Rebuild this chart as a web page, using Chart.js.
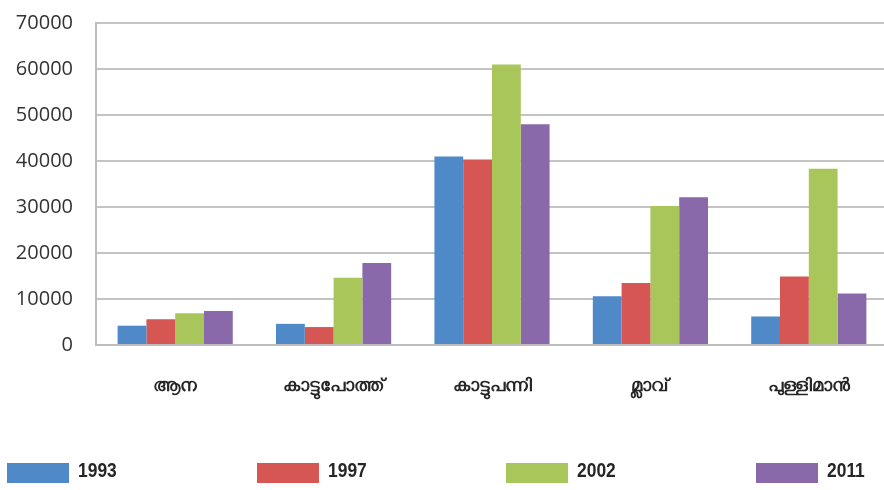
<!DOCTYPE html>
<html>
<head>
<meta charset="utf-8">
<script src="https://cdn.jsdelivr.net/npm/chart.js@4.4.0/dist/chart.umd.min.js"></script>
<style>
    html, body { margin: 0; padding: 0; background: #ffffff; overflow: hidden; }
    #wrap { position: relative; width: 892px; height: 490px; }
    #legend { position: absolute; left: 7px; top: 463px; display: flex; }
    .item { width: 249.5px; height: 20px; display: flex; align-items: center; }
    .box { width: 62px; height: 20px; margin-right: 9px; }
    .lbl { display: inline-block; position: relative; top: -3px; line-height: 20px;
           transform: scaleX(0.83); transform-origin: left center;
           font-family: 'Liberation Sans', sans-serif; font-weight: bold; font-size: 21px; color: #262626; }
</style>
</head>
<body>
<div id="wrap">
    <canvas id="myChart" width="892" height="490"></canvas>
    <div id="legend"></div>
</div>
<script>
const categorias = ['ആന', 'കാട്ടുപോത്ത്', 'കാട്ടുപന്നി', 'മ്ലാവ്', 'പുള്ളിമാൻ'];
const anios = ['1993', '1997', '2002', '2011'];
const datos1993 = [4200, 4600, 41000, 10600, 6200];
const datos1997 = [5600, 3900, 40300, 13500, 14900];
const datos2002 = [6900, 14600, 61000, 30200, 38300];
const datos2011 = [7400, 17800, 48000, 32100, 11200];
const colores = ['#4f89c8', '#d55652', '#a9c65b', '#8969a9'];

let series = [datos1993, datos1997, datos2002, datos2011];
let datasets = [];
series.forEach((valores, i) => {
    datasets.push({
        label: anios[i],
        data: valores,
        backgroundColor: colores[i],
        borderWidth: 0,
        barPercentage: 1.0,
        categoryPercentage: 0.727
    });
});

const ctx = document.getElementById('myChart');
const myChart = new Chart(ctx, {
    type: 'bar',
    data: {
        labels: categorias,
        datasets: datasets
    },
    options: {
        responsive: false,
        animation: false,
        layout: {
            padding: { top: 23, right: 4, bottom: 0, left: 0 }
        },
        scales: {
            x: {
                grid: { display: false, drawTicks: false },
                border: { display: true, color: '#bdbdbd', width: 2 },
                ticks: {
                    padding: 30,
                    color: '#262626',
                    font: { family: "'Noto Sans', sans-serif", size: 18, weight: 'bold' }
                },
                afterFit: function (scale) {
                    scale.height = 145;
                }
            },
            y: {
                min: 0,
                max: 70000,
                grid: { color: '#c4c4c4', lineWidth: 2, drawTicks: false },
                border: { display: true, color: '#bdbdbd', width: 2 },
                ticks: {
                    stepSize: 10000,
                    padding: 23,
                    color: '#333333',
                    font: { family: "'Open Sans', sans-serif", size: 20 },
                    callback: function (value) {
                        return String(value);
                    }
                },
                afterFit: function (scale) {
                    // ancho fijo del eje y sin relleno arriba
                    scale.width = 96;
                    scale.paddingTop = 0;
                }
            }
        },
        plugins: {
            legend: { display: false },
            tooltip: { enabled: false }
        }
    }
});

// leyenda en html, abajo
let vhtml = '';
myChart.data.datasets.forEach(ds => {
    vhtml += '<div class="item"><div class="box" style="background:' + ds.backgroundColor + '"></div><span class="lbl">' + ds.label + '</span></div>';
});
document.getElementById('legend').innerHTML = vhtml;
</script>
</body>
</html>
